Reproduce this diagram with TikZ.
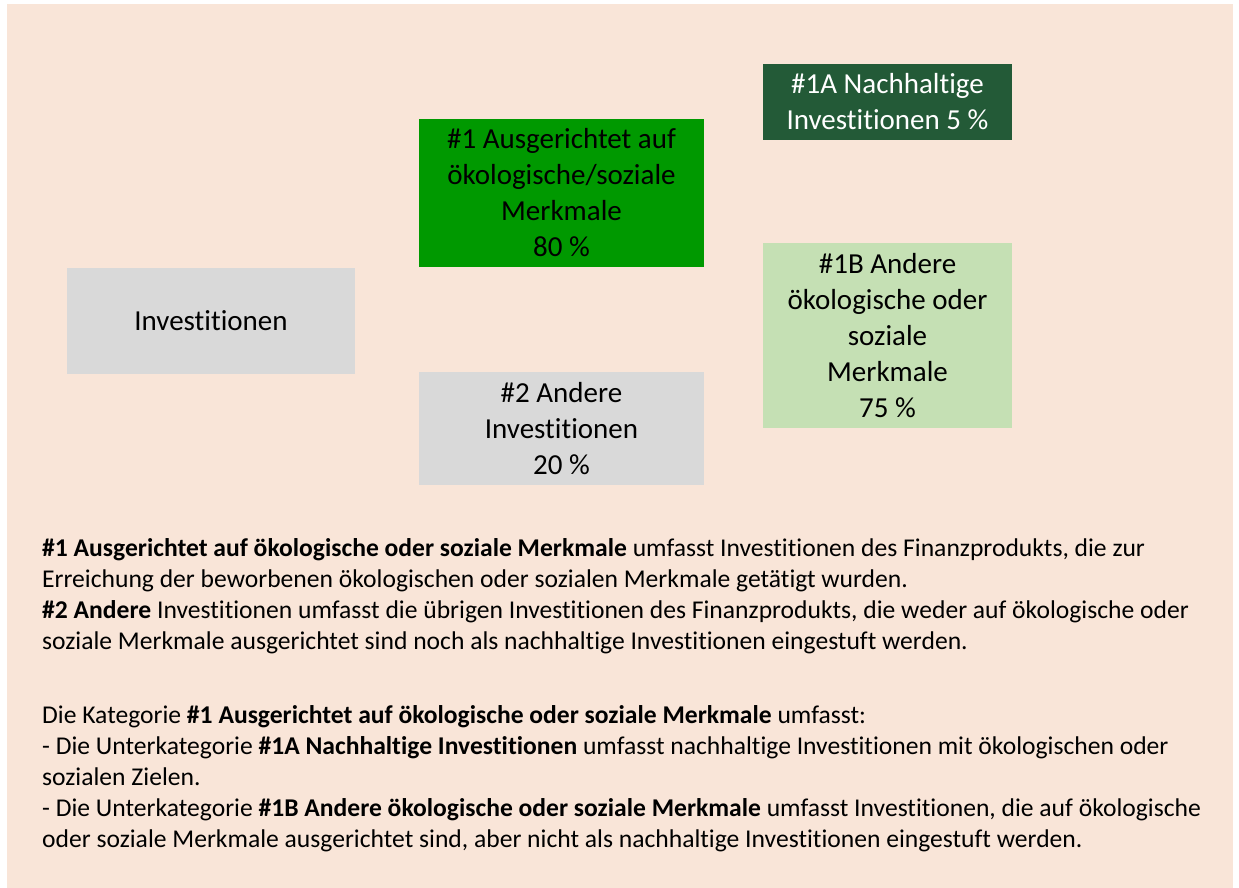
\documentclass[tikz,border=0pt]{standalone}
\usepackage{fontspec}
\setmainfont{Carlito}[Ligatures=NoCommon]
\definecolor{peach}{HTML}{F9E5D8}
\definecolor{boxgray}{HTML}{D9D9D9}
\definecolor{boxgreen}{HTML}{009900}
\definecolor{darkgreen}{HTML}{235A37}
\definecolor{lightgreen}{HTML}{C5E0B4}
\begin{document}
\begin{tikzpicture}[x=1pt, y=-1pt,
    box/.style={inner sep=0pt, align=center, font=\fontsize{29}{36}\selectfont},
    note/.style={inner sep=0pt, align=left, anchor=base west, font=\fontsize{25.6}{31}\selectfont}]
    % Background
    \useasboundingbox (0,0) rectangle (1239,888);
    \fill[white] (0,0) rectangle (1239,888);
    \fill[peach] (7,4) rectangle (1233,888);

    % Boxes
    \node[box, fill=boxgray, minimum width=288pt, minimum height=106pt] (inv) at (211,320.5) {Investitionen};
    \node[box, fill=boxgreen, minimum width=285pt, minimum height=148pt] (es) at (561.5,193)
        {\#1 Ausgerichtet auf\\ökologische/soziale\\Merkmale\\80~\%};
    \node[box, fill=boxgray, minimum width=285pt, minimum height=113pt] (other) at (561.5,428.5)
        {\#2 Andere\\Investitionen\\20~\%};
    \node[box, fill=darkgreen, text=white, minimum width=249pt, minimum height=76pt] (sust) at (887.5,102)
        {\#1A Nachhaltige\\Investitionen 5~\%};
    \node[box, fill=lightgreen, minimum width=249pt, minimum height=185pt] (otheres) at (887.5,335.5)
        {\#1B Andere\\ökologische oder\\soziale\\Merkmale\\75~\%};

    % Explanation (anchored at the baseline of its last line)
    \node[note] (legend) at (42,847) {%
        \textbf{\#1 Ausgerichtet auf ökologische oder soziale Merkmale} umfasst Investitionen des Finanzprodukts, die zur\\
        Erreichung der beworbenen ökologischen oder sozialen Merkmale getätigt wurden.\\
        \textbf{\#2 Andere} Investitionen umfasst die übrigen Investitionen des Finanzprodukts, die weder auf ökologische oder\\
        soziale Merkmale ausgerichtet sind noch als nachhaltige Investitionen eingestuft werden.\\[43pt]
        Die Kategorie \textbf{\#1 Ausgerichtet auf ökologische oder soziale Merkmale} umfasst:\\
        - Die Unterkategorie \textbf{\#1A Nachhaltige Investitionen} umfasst nachhaltige Investitionen mit ökologischen oder\\
        sozialen Zielen.\\
        - Die Unterkategorie \textbf{\#1B Andere ökologische oder soziale Merkmale} umfasst Investitionen, die auf ökologische\\
        oder soziale Merkmale ausgerichtet sind, aber nicht als nachhaltige Investitionen eingestuft werden.};
\end{tikzpicture}
\end{document}
